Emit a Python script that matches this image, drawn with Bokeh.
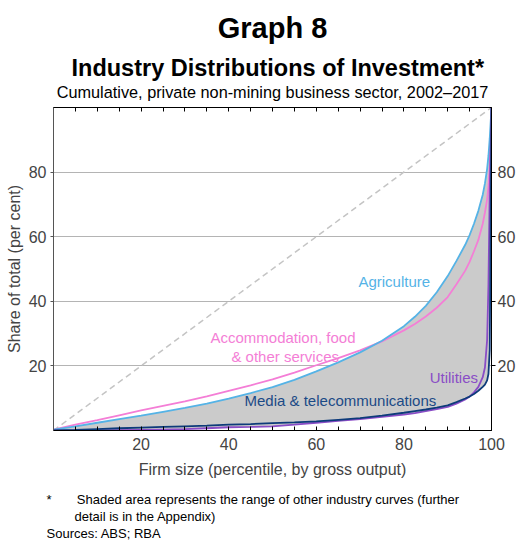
import numpy as np
from bokeh.plotting import figure
from bokeh.models import LinearAxis, FixedTicker, Label, ColumnDataSource, Range1d, Title
from bokeh.embed import file_html
from bokeh.resources import INLINE

# ---- data ----
percentile = [0, 5, 10, 15, 20, 25, 30, 35, 40, 45, 50, 55, 60, 65, 70, 75, 80, 82.5, 85, 87.5,
              90, 92, 94, 95, 96, 97, 98, 98.5, 99, 99.3, 99.6, 100]
agriculture = [0.3, 1.3, 2.4, 3.5, 4.6, 5.8, 7.0, 8.3, 9.9, 11.6, 13.4, 15.7, 18.3, 21.1, 24.2,
               27.8, 32.3, 35.2, 38.6, 42.8, 47.8, 52.5, 57.5, 60.5, 64.0, 68.0, 73.0, 76.5,
               81.0, 85.0, 90.5, 100]
accommodation = [0.3, 1.8, 3.2, 4.7, 6.2, 7.6, 9.0, 10.6, 12.3, 14.0, 15.8, 17.9, 20.2, 22.4,
                 24.8, 27.6, 31.0, 33.0, 35.3, 38.0, 41.3, 45.3, 49.5, 52.2, 55.5, 59.0, 64.0,
                 67.5, 71.5, 75.5, 82.0, 100]
media = [0, 0.2, 0.45, 0.7, 0.9, 1.1, 1.3, 1.5, 1.8, 2.0, 2.3, 2.5, 2.8, 3.3, 3.8, 4.6, 5.5,
         6.0, 6.5, 7.1, 7.8, 8.8, 9.9, 10.5, 11.3, 12.3, 13.5, 14.2, 15.5, 17.5, 25.0, 100]
utilities = [0, 0, 0, 0.1, 0.2, 0.3, 0.4, 0.7, 1.0, 1.1, 1.3, 1.8, 2.4, 3.0, 3.5, 4.2, 4.9,
             5.4, 6.0, 6.6, 7.3, 8.3, 9.6, 10.5, 11.8, 13.5, 16.5, 19.5, 28.0, 45.0, 75.0, 100]
equality_x = [0, 100]
equality_y = [0, 100]
x_major_ticks = [20, 40, 60, 80, 100]
x_minor_ticks = [5, 10, 15, 25, 30, 35, 45, 50, 55, 65, 70, 75, 85, 90, 95]
y_ticks = [20, 40, 60, 80]

FONT = "Liberation Sans"
C_AGR = "#55B3E6"
C_ACC = "#F47ED6"
C_MED = "#0D3B7A"
C_UTI = "#8A4DC6"
NB = "\u00a0"

lower = np.minimum(np.array(media), np.array(utilities))
src = ColumnDataSource(dict(x=percentile, agr=agriculture, acc=accommodation,
                            med=media, uti=utilities, lower=lower))

p = figure(width=518, height=540, x_range=Range1d(0, 100), y_range=Range1d(0, 100),
           output_backend="svg", toolbar_location=None,
           x_axis_location=None, y_axis_location=None,
           min_border_left=53, min_border_right=26, min_border_top=107, min_border_bottom=110)
p.outline_line_color = "#000000"
p.xgrid.visible = False
p.ygrid.ticker = FixedTicker(ticks=y_ticks)
p.ygrid.grid_line_color = "#b4b4b4"
p.ygrid.grid_line_width = 1

xt = FixedTicker(ticks=x_major_ticks, minor_ticks=x_minor_ticks)
bottom = LinearAxis(ticker=xt, major_tick_in=4, major_tick_out=0, minor_tick_in=4, minor_tick_out=0,
                    axis_label="Firm size (percentile, by gross output)",
                    axis_label_text_font=FONT, axis_label_text_font_size="16px",
                    axis_label_text_font_style="normal", axis_label_standoff=8,
                    major_label_text_font=FONT, major_label_text_font_size="16px",
                    major_label_standoff=7, axis_line_color="#000000",
                    major_tick_line_color="#000000", minor_tick_line_color="#000000")
p.add_layout(bottom, "below")
top = LinearAxis(ticker=xt, major_tick_in=4, major_tick_out=0, minor_tick_in=4, minor_tick_out=0,
                 major_label_overrides={t: "" for t in x_major_ticks},
                 major_label_text_color=None, major_label_text_font_size="0px",
                 major_label_standoff=0,
                 axis_line_color="#000000", major_tick_line_color="#000000",
                 minor_tick_line_color="#000000")
p.add_layout(top, "above")

yt = FixedTicker(ticks=y_ticks, minor_ticks=[])
left = LinearAxis(ticker=yt, major_tick_in=0, major_tick_out=3, minor_tick_in=0, minor_tick_out=0,
                  axis_label="Share of total (per cent)",
                  axis_label_text_font=FONT, axis_label_text_font_size="16px",
                  axis_label_text_font_style="normal", axis_label_standoff=3,
                  major_label_text_font=FONT, major_label_text_font_size="16px",
                  major_label_standoff=4, axis_line_color="#555555",
                  major_tick_line_color="#555555")
p.add_layout(left, "left")
right = LinearAxis(ticker=yt, major_tick_in=0, major_tick_out=4, minor_tick_in=0, minor_tick_out=0,
                   major_label_text_font=FONT, major_label_text_font_size="16px",
                   major_label_standoff=2, axis_line_color="#000000",
                   major_tick_line_color="#000000")
p.add_layout(right, "right")

# ---- titles (stacked outward from the frame) ----
p.add_layout(Title(text=NB, text_font=FONT, text_font_size="2px", standoff=3), "above")
p.add_layout(Title(text="Cumulative, private non-mining business sector, 2002\u20132017",
                   text_font=FONT, text_font_size="16.3px", text_font_style="normal",
                   text_color="#000000", align="center", standoff=0), "above")
p.add_layout(Title(text="Industry Distributions of Investment*",
                   text_font=FONT, text_font_size="23.5px", text_font_style="bold",
                   text_color="#000000", align="left", offset=18, standoff=0), "above")
p.title.text = "Graph 8"
p.title.text_font = FONT
p.title.text_font_size = "29px"
p.title.text_font_style = "bold"
p.title.text_color = "#000000"
p.title.align = "center"
p.title.standoff = 17

# ---- footnotes (stacked downward below the x axis) ----
p.add_layout(Title(text=NB, text_font=FONT, text_font_size="2px", standoff=5), "below")
p.add_layout(Title(text="*" + NB * 7 + "Shaded area represents the range of other industry curves (further",
                   text_font=FONT, text_font_size="13px", text_font_style="normal",
                   text_color="#000000", align="left", offset=-7, standoff=0), "below")
p.add_layout(Title(text="detail is in the Appendix)",
                   text_font=FONT, text_font_size="13px", text_font_style="normal",
                   text_color="#000000", align="left", offset=21, standoff=0), "below")
p.add_layout(Title(text="Sources: ABS; RBA",
                   text_font=FONT, text_font_size="13px", text_font_style="normal",
                   text_color="#000000", align="left", offset=-7, standoff=0), "below")

# ---- glyphs ----
p.line(equality_x, equality_y, line_color="#c4c4c4", line_width=1.5, line_dash="6 4")
p.varea(x="x", y1="lower", y2="agr", source=src, fill_color="#cbcbcb")
p.line(x="x", y="acc", source=src, line_color=C_ACC, line_width=1.8)
p.line(x="x", y="agr", source=src, line_color=C_AGR, line_width=1.8)
p.line(x="x", y="uti", source=src, line_color=C_UTI, line_width=1.8)
p.line(x="x", y="med", source=src, line_color=C_MED, line_width=1.8)


def add_text(x, y, text, color):
    p.add_layout(Label(x=x, y=y, text=text, text_font=FONT, text_font_size="15px",
                       text_color=color, text_align="center", text_baseline="middle"))


add_text(77.8, 46.2, "Agriculture", C_AGR)
add_text(52.4, 28.7, "Accommodation, food", C_ACC)
add_text(52.9, 22.8, "& other services", C_ACC)
add_text(65.5, 9.4, "Media & telecommunications", "#1B4A86")
add_text(91.4, 16.4, "Utilities", C_UTI)

open("out.html", "w").write(file_html(p, INLINE))
